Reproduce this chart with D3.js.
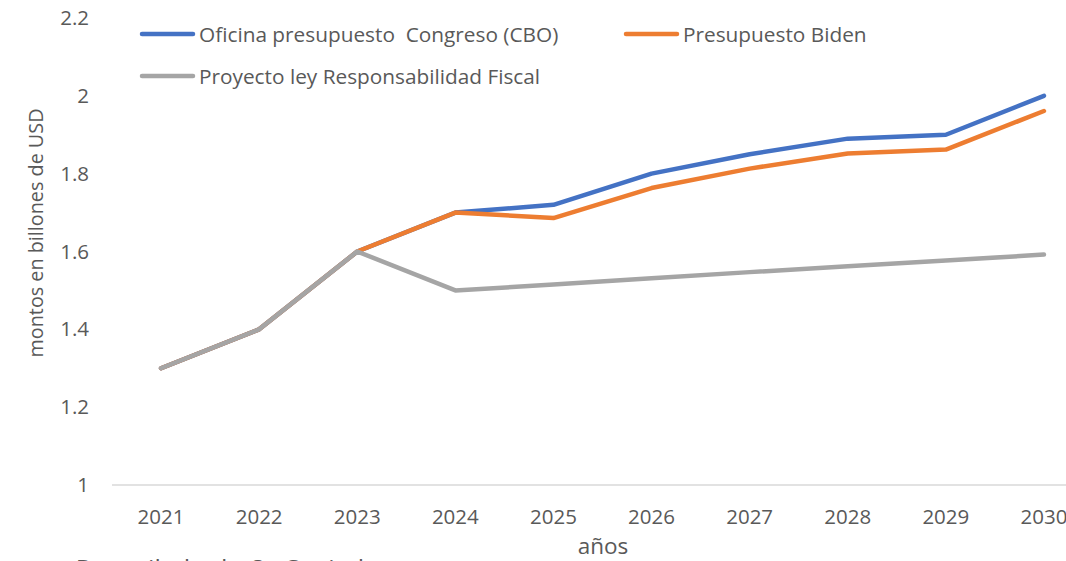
<!DOCTYPE html>
<html>
<head>
<meta charset="utf-8">
<script src="https://cdn.jsdelivr.net/npm/d3@7"></script>
<style>
  html, body { margin: 0; padding: 0; background: #fff; overflow: hidden; }
  svg { display: block; font-family: "Open Sans", "Liberation Sans", sans-serif; }
  text { white-space: pre; }
</style>
</head>
<body>
<svg id="chart" width="1066" height="561"></svg>
<script>
const years = ["2021","2022","2023","2024","2025","2026","2027","2028","2029","2030"];
const cbo   = [1.3, 1.4, 1.6, 1.7, 1.72, 1.80, 1.85, 1.89, 1.90, 2.0];
const biden = [1.3, 1.4, 1.6, 1.7, 1.686, 1.763, 1.813, 1.852, 1.862, 1.961];
const fiscal = [1.3, 1.4, 1.6, 1.5, 1.515, 1.531, 1.547, 1.562, 1.577, 1.592];
const yTicks = [1, 1.2, 1.4, 1.6, 1.8, 2, 2.2];
const seriesNames = ["Oficina presupuesto  Congreso (CBO)", "Presupuesto Biden", "Proyecto ley Responsabilidad Fiscal"];
const colors = ["#4472c4", "#ed7d31", "#a5a5a5"];

const svg = d3.select("#chart");
const x = d3.scaleBand().domain(years).range([112, 1093]);
const y = d3.scaleLinear().domain([1, 2.2]).range([485, 18]);
const textColor = "#595959";

// x axis line
svg.append("line").attr("x1", 112).attr("x2", 1066).attr("y1", y(1)).attr("y2", y(1))
  .attr("stroke", "#d9d9d9").attr("stroke-width", 1.3);

// x tick labels
svg.append("g").selectAll("text").data(years).join("text")
  .attr("x", d => x(d) + x.bandwidth() / 2).attr("y", 524)
  .attr("text-anchor", "middle").attr("fill", textColor).attr("font-size", 20.5)
  .text(d => d);

// y tick labels
svg.append("g").selectAll("text").data(yTicks).join("text")
  .attr("x", 89).attr("y", d => y(d) + 7)
  .attr("text-anchor", "end").attr("fill", textColor).attr("font-size", 20.5)
  .text(d => d3.format("~g")(d));

// axis titles
svg.append("text").attr("transform", "translate(43,233) rotate(-90)")
  .attr("text-anchor", "middle").attr("fill", textColor).attr("font-size", 19.8)
  .text("montos en billones de USD");
svg.append("text").attr("x", 603).attr("y", 554)
  .attr("text-anchor", "middle").attr("fill", textColor).attr("font-size", 22.5)
  .text("años");
svg.append("text").attr("x", 364).attr("y", 578)
  .attr("text-anchor", "end").attr("fill", textColor).attr("font-size", 25.2)
  .text("Fuente: Recopilado de OnCapital");

// lines
const line = d3.line().x((d, i) => x(years[i]) + x.bandwidth() / 2).y(d => y(d));
const data = [cbo, biden, fiscal];
svg.append("g").selectAll("path").data(data).join("path")
  .attr("d", d => line(d)).attr("fill", "none")
  .attr("stroke", (d, i) => colors[i]).attr("stroke-width", 4.5)
  .attr("stroke-linecap", "round").attr("stroke-linejoin", "round");

// legend
const legend = [
  { name: seriesNames[0], color: colors[0], x: 140, y: 34 },
  { name: seriesNames[1], color: colors[1], x: 624, y: 34 },
  { name: seriesNames[2], color: colors[2], x: 140, y: 76 }
];
const lg = svg.append("g").selectAll("g").data(legend).join("g");
lg.append("line").attr("x1", d => d.x + 2).attr("x2", d => d.x + 53)
  .attr("y1", d => d.y).attr("y2", d => d.y)
  .attr("stroke", d => d.color).attr("stroke-width", 4.5).attr("stroke-linecap", "round");
lg.append("text").attr("x", d => d.x + 59).attr("y", d => d.y + 8)
  .attr("fill", textColor).attr("font-size", 20.8).text(d => d.name);
</script>
</body>
</html>
